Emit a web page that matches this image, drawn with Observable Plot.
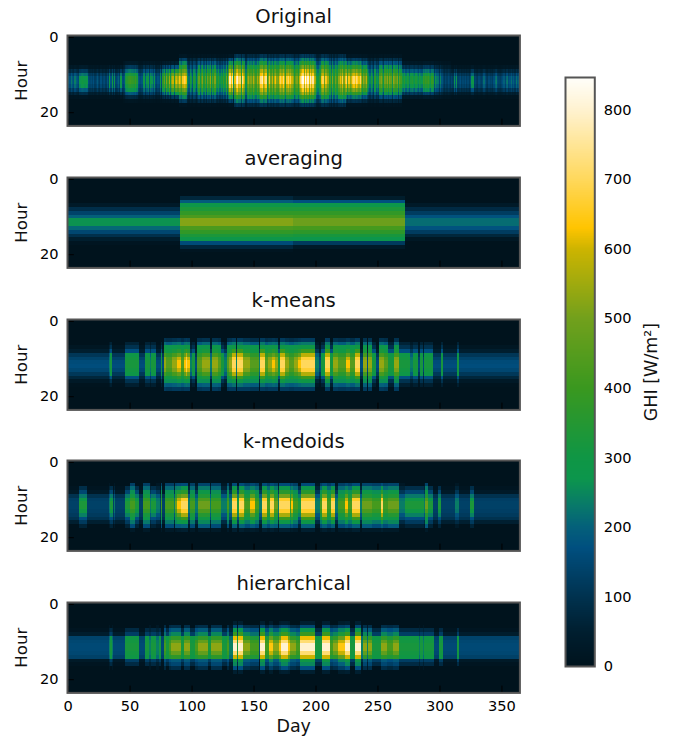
<!DOCTYPE html>
<html>
<head>
<meta charset="utf-8">
<script src="https://cdn.jsdelivr.net/npm/d3@7"></script>
<script src="https://cdn.jsdelivr.net/npm/@observablehq/plot@0.6"></script>
<style>
html,body{margin:0;padding:0;background:#fff;}
#fig{position:relative;width:682px;height:744px;overflow:hidden;}
#fig svg{position:absolute;background:transparent;font-family:"DejaVu Sans";}
</style>
</head>
<body>
<div id="fig"></div>
<script>
// ---------- colour scale ----------
const colorValues = [0, 50, 100, 170, 200, 230, 270, 300, 400, 500, 600, 630, 700, 800, 847];
const colorStops = ["#00131d","#001f30","#00324f","#004f7f","#04607a","#08786a","#0c964c","#0f9645","#3a981f","#72a01c","#cdb400","#ffc400","#ffd85c","#fff2d0","#fffffb"];

// ---------- axis ticks ----------
const dayTicks = [0, 50, 100, 150, 200, 250, 300, 350];
const hourTicks = [0, 20];
const barTicks = [0, 100, 200, 300, 400, 500, 600, 700, 800];
const panelTitles = ["Original", "averaging", "k-means", "k-medoids", "hierarchical"];

// ---------- Original: peak GHI per day ----------
const originalPeak = [
190,210,170,230,190,170,240,200,180,160, 280,300,310,300,290,300,280,170,150,160,
140,170,130,150,190,140,120,170,130,150, 160,130,180,140,300,180,310,170,290,150,
170,210,150,300,170,160,190,320,360,390, 400,410,390,380,360,400,340,200,170,160,
180,290,310,200,280,320,190,300,270,210, 290,170,150,180,160,300,170,380,480,300,
520,400,560,320,540,600,360,590,620,560, 640,600,520,650,690,660,620,300,220,340,
280,200,350,300,210,330,480,300,440,520, 350,460,300,500,420,540,300,460,380,520,
330,300,380,280,340,290,400,320,500,300, 560,780,640,760,300,620,760,800,680,700,
420,740,660,600,300,500,560,480,520,450, 580,500,430,560,480,600,740,780,620,680,
740,400,520,650,500,600,450,580,630,520, 500,620,700,640,720,600,430,660,700,620,
680,600,540,380,480,520,420,600,700,760, 830,640,840,700,800,620,790,680,760,600,
560,350,300,380,420,640,690,500,660,640, 560,400,450,300,520,350,500,420,380,540,
620,560,680,520,640,700,480,640,540,600, 680,710,640,720,680,620,700,560,420,540,
500,580,400,300,240,340,280,200,380,260, 300,250,480,520,420,300,500,460,530,400,
520,480,300,540,500,460,520,300,480,420, 330,300,360,280,340,320,250,330,350,310,
280,340,300,260,330,290,270,390,360,400, 380,410,350,300,390,370,200,280,240,230,
150,250,180,140,120,150,130,160,140,120, 150,130,270,180,280,140,150,170,130,150,
140,160,130,150,120,170,280,290,140,150, 130,120,160,140,130,150,220,170,130,120,
160,140,150,130,170,220,240,160,140,130, 150,170,200,150,220,230,160,180,220,170,
200,160,230,180,210];
// share of the day's peak per hour, by part of the year
const originalSeasonStarts = [0, 45, 90, 135, 225, 270, 310];
const originalShapes = [
[0,0,0,0,0,0,0,0,.12,.4,.75,.95,1,.9,.65,.3,.06,0,0,0,0,0,0,0],
[0,0,0,0,0,0,0,.08,.3,.58,.82,.97,1,.88,.72,.48,.2,.04,0,0,0,0,0,0],
[0,0,0,0,0,.03,.2,.38,.56,.72,.85,1,1,.88,.74,.58,.38,.18,.02,0,0,0,0,0],
[0,0,0,0,0,.14,.3,.45,.62,.76,.85,1,1,.88,.78,.68,.5,.32,.14,.02,0,0,0,0],
[0,0,0,0,0,.03,.18,.36,.54,.72,.85,1,1,.88,.74,.56,.34,.14,.02,0,0,0,0,0],
[0,0,0,0,0,0,0,.08,.3,.58,.82,.97,1,.88,.68,.36,.1,0,0,0,0,0,0,0],
[0,0,0,0,0,0,0,0,.1,.38,.72,.95,1,.9,.6,.25,.05,0,0,0,0,0,0,0]];

// ---------- averaging: one typical day per quarter ----------
const averagingRuns = [[0,"Q1"],[91,"Q2"],[182,"Q3"],[273,"Q4"]];
const averagingDays = {
Q1:[0,0,0,0,0,0,0,30,90,140,200,265,265,210,150,95,45,10,0,0,0,0,0,0],
Q2:[0,0,0,0,0,70,190,280,330,380,430,520,520,430,380,330,280,160,70,10,0,0,0,0],
Q3:[0,0,0,0,0,40,170,270,330,380,420,490,490,420,370,320,270,120,30,0,0,0,0,0],
Q4:[0,0,0,0,0,0,0,30,80,125,175,215,215,175,125,70,20,0,0,0,0,0,0,0]};

// ---------- k-means ----------
const kmeansDays = {
W:[0,0,0,0,0,0,0,15,45,110,140,160,165,150,115,70,25,5,0,0,0,0,0,0],
T:[0,0,0,0,0,0,30,60,110,200,225,240,240,225,195,120,60,20,0,0,0,0,0,0],
G:[0,0,0,0,0,0,60,100,170,290,310,320,320,310,290,175,100,50,0,0,0,0,0,0],
N:[0,0,0,0,0,90,190,270,300,370,430,450,450,420,360,300,260,190,110,0,0,0,0,0],
M:[0,0,0,0,0,100,210,280,320,420,520,540,540,510,420,320,260,200,120,0,0,0,0,0],
Y:[0,0,0,0,0,110,220,290,350,470,590,630,630,590,470,350,280,210,120,0,0,0,0,0],
B:[0,0,0,0,0,120,230,300,400,580,670,700,700,670,570,400,300,220,120,0,0,0,0,0]};
const kmeansRuns = [[0,"W"],[34,"T"],[35,"G"],[36,"W"],[47,"G"],[58,"W"],[63,"G"],[67,"T"],[68,"G"],[72,"W"],[76,"G"],[77,"W"],[78,"M"],[80,"N"],[85,"M"],[89,"Y"],[92,"N"],[94,"Y"],[96,"B"],[97,"Y"],[99,"T"],[101,"G"],[103,"W"],[105,"N"],[109,"M"],[115,"T"],[117,"M"],[122,"N"],[124,"G"],[127,"T"],[129,"N"],[131,"M"],[133,"B"],[136,"T"],[137,"B"],[142,"M"],[148,"N"],[155,"T"],[156,"B"],[160,"N"],[162,"M"],[165,"Y"],[168,"M"],[170,"G"],[172,"B"],[176,"M"],[179,"N"],[183,"M"],[186,"Y"],[189,"B"],[200,"T"],[203,"W"],[205,"G"],[208,"B"],[212,"G"],[215,"M"],[219,"N"],[225,"Y"],[228,"N"],[232,"B"],[236,"W"],[239,"M"],[242,"W"],[243,"M"],[246,"G"],[249,"W"],[252,"M"],[256,"N"],[259,"G"],[264,"M"],[268,"G"],[277,"T"],[279,"G"],[283,"W"],[285,"G"],[287,"W"],[288,"G"],[295,"W"],[302,"G"],[303,"W"],[315,"G"],[316,"W"]];

// ---------- k-medoids ----------
const kmedoidsDays = {
W:[0,0,0,0,0,0,0,10,30,100,130,135,135,130,120,100,50,0,0,0,0,0,0,0],
T:[0,0,0,0,0,0,20,60,110,180,225,235,235,225,180,150,80,30,0,0,0,0,0,0],
G:[0,0,0,0,0,0,0,90,150,230,290,330,330,300,240,170,120,60,0,0,0,0,0,0],
N:[0,0,0,0,0,0,130,210,260,310,380,420,420,380,320,280,230,160,30,0,0,0,0,0],
M:[0,0,0,0,0,0,140,230,290,340,430,490,490,430,350,300,250,190,30,0,0,0,0,0],
Y:[0,0,0,0,0,0,150,240,330,450,580,630,630,580,450,340,270,190,40,0,0,0,0,0],
B:[0,0,0,0,0,0,160,270,360,500,660,700,700,660,560,400,290,200,50,0,0,0,0,0]};
const kmedoidsRuns = [[0,"W"],[10,"G"],[16,"W"],[34,"T"],[35,"G"],[37,"W"],[38,"T"],[39,"W"],[47,"G"],[51,"N"],[55,"G"],[58,"W"],[61,"N"],[67,"T"],[68,"G"],[72,"T"],[75,"W"],[76,"N"],[77,"W"],[79,"N"],[86,"T"],[87,"M"],[89,"Y"],[92,"B"],[98,"T"],[99,"N"],[103,"T"],[106,"M"],[115,"T"],[116,"N"],[124,"T"],[129,"N"],[131,"T"],[133,"B"],[137,"G"],[139,"B"],[143,"M"],[144,"N"],[148,"Y"],[152,"N"],[155,"T"],[157,"B"],[161,"N"],[164,"B"],[167,"M"],[170,"T"],[171,"B"],[180,"N"],[181,"Y"],[182,"N"],[186,"G"],[189,"B"],[200,"T"],[204,"N"],[206,"B"],[210,"N"],[213,"B"],[216,"T"],[219,"N"],[224,"Y"],[227,"N"],[230,"B"],[236,"T"],[238,"M"],[246,"N"],[253,"B"],[255,"N"],[259,"M"],[268,"T"],[273,"G"],[288,"T"],[289,"M"],[291,"G"],[295,"W"],[299,"G"],[302,"W"],[313,"T"],[316,"W"],[325,"G"],[328,"W"]];

// ---------- hierarchical ----------
const hierarchicalDays = {
W:[0,0,0,0,0,0,0,10,40,140,150,155,155,150,135,30,10,0,0,0,0,0,0,0],
T:[0,0,0,0,0,0,20,60,100,215,235,240,240,235,215,90,50,20,0,0,0,0,0,0],
G:[0,0,0,0,0,0,0,80,130,300,310,320,320,310,300,130,80,0,0,0,0,0,0,0],
N:[0,0,0,0,0,0,80,170,220,330,390,420,420,390,340,170,130,70,0,0,0,0,0,0],
M:[0,0,0,0,0,0,90,190,250,380,470,530,530,470,370,190,150,90,0,0,0,0,0,0],
Y:[0,0,0,0,0,40,130,240,330,480,590,640,640,590,470,250,200,130,40,0,0,0,0,0],
B:[0,0,0,0,0,50,150,270,400,620,720,800,800,720,600,300,250,170,50,0,0,0,0,0]};
const hierarchicalRuns = [[0,"W"],[34,"T"],[35,"G"],[36,"T"],[37,"W"],[47,"G"],[58,"W"],[63,"G"],[66,"T"],[68,"G"],[72,"T"],[74,"G"],[76,"W"],[78,"N"],[80,"G"],[82,"N"],[84,"M"],[92,"G"],[94,"M"],[99,"G"],[103,"N"],[106,"M"],[114,"G"],[116,"M"],[125,"G"],[129,"N"],[131,"T"],[134,"B"],[137,"G"],[138,"B"],[142,"M"],[148,"N"],[155,"W"],[156,"B"],[160,"N"],[163,"Y"],[166,"M"],[171,"Y"],[173,"B"],[178,"Y"],[180,"M"],[185,"N"],[188,"B"],[200,"G"],[206,"B"],[212,"N"],[215,"M"],[219,"Y"],[224,"B"],[228,"G"],[232,"B"],[237,"T"],[239,"M"],[242,"T"],[243,"M"],[246,"G"],[253,"M"],[258,"N"],[263,"M"],[268,"G"],[284,"T"],[285,"G"],[287,"T"],[288,"G"],[296,"W"],[300,"G"],[303,"W"],[315,"G"],[316,"W"]];

// ---------- tables built from the arrays above ----------
const hours = d3.range(24);
function originalCells() {
  const out = [];
  originalPeak.forEach((peak, day) => {
    const season = d3.bisectRight(originalSeasonStarts, day) - 1;
    hours.forEach(hour => out.push({day0: day, day1: day + 1, hour, ghi: peak * originalShapes[season][hour]}));
  });
  return out;
}
function clusterCells(runs, days) {
  const out = [];
  runs.forEach(([start, key], i) => {
    const end = i + 1 < runs.length ? runs[i + 1][0] : 365;
    hours.forEach(hour => out.push({day0: start, day1: end, hour, ghi: days[key][hour]}));
  });
  return out;
}
const panelCells = [
  originalCells(),
  clusterCells(averagingRuns, averagingDays),
  clusterCells(kmeansRuns, kmeansDays),
  clusterCells(kmedoidsRuns, kmedoidsDays),
  clusterCells(hierarchicalRuns, hierarchicalDays)
];

const colorScale = {type: "linear", domain: colorValues, range: colorStops, clamp: true};
const fig = document.getElementById("fig");
const panelTops = [35, 176.75, 318.5, 460.25, 602];

panelTitles.forEach((title, i) => {
  const last = i === panelTitles.length - 1;
  const chart = Plot.plot({
    width: 540, height: 160,
    marginLeft: 67, marginRight: 20.6, marginTop: 35, marginBottom: 160 - 35 - 90.4,
    x: {domain: [-0.5, 364.5]},
    y: {domain: [23.5, -0.5]},
    color: colorScale,
    style: {fontFamily: "DejaVu Sans", background: "transparent", overflow: "visible"},
    marks: [
      Plot.rect(panelCells[i], {
        x1: d => d.day0 - 0.5, x2: d => d.day1 - 0.5,
        y1: d => d.hour - 0.5, y2: d => d.hour + 0.5,
        fill: "ghi", shapeRendering: "crispEdges"
      }),
      Plot.ruleX(dayTicks, {y1: 23.5, y2: 21.7, stroke: "#000", strokeWidth: 1}),
      Plot.ruleY(hourTicks, {x1: -0.5, x2: 5, stroke: "#000", strokeWidth: 1}),
      Plot.frame({stroke: "#555", strokeWidth: 2}),
      Plot.axisY({ticks: hourTicks, tickSize: 0, tickPadding: 9, label: null, fontSize: 14.6, tickFormat: d => d}),
      last
        ? Plot.axisX({ticks: dayTicks, tickSize: 0, tickPadding: 8, label: null, fontSize: 14.6, tickFormat: d => d, anchor: "bottom"})
        : Plot.axisX({ticks: [], label: null, tickSize: 0}),
      Plot.text([title], {frameAnchor: "top", dy: -19, fontSize: 19.6, fill: "#111", lineAnchor: "middle"}),
      Plot.text(["Hour"], {frameAnchor: "left", dx: -46, rotate: -90, fontSize: 16.6, fill: "#111", textAnchor: "middle"}),
      last ? Plot.text(["Day"], {frameAnchor: "bottom", dy: 39, fontSize: 17.5, fill: "#111"}) : null
    ]
  });
  chart.style.left = "0px";
  chart.style.top = (panelTops[i] - 35) + "px";
  fig.appendChild(chart);
});

// ---------- colour bar ----------
const barLevels = d3.range(0, 847);
const bar = Plot.plot({
  width: 682, height: 744,
  marginLeft: 565, marginRight: 682 - 594.3, marginTop: 77, marginBottom: 744 - 666,
  x: {domain: [0, 1], axis: null},
  y: {domain: [0, 847]},
  color: colorScale,
  style: {fontFamily: "DejaVu Sans", background: "transparent"},
  marks: [
    Plot.rect(barLevels, {x1: 0, x2: 1, y1: d => d, y2: d => d + 1, fill: d => d + 0.5, shapeRendering: "crispEdges"}),
    Plot.frame({stroke: "#555", strokeWidth: 2}),
    Plot.axisY({anchor: "right", ticks: barTicks, tickSize: 0, tickPadding: 9, label: null, fontSize: 14.6, tickFormat: d => d}),
    Plot.text(["GHI [W/m²]"], {frameAnchor: "right", dx: 57, rotate: -90, fontSize: 17.5, fill: "#111", textAnchor: "middle"})
  ]
});
bar.style.left = "0px";
bar.style.top = "0px";
bar.style.pointerEvents = "none";
fig.appendChild(bar);
</script>
</body>
</html>
